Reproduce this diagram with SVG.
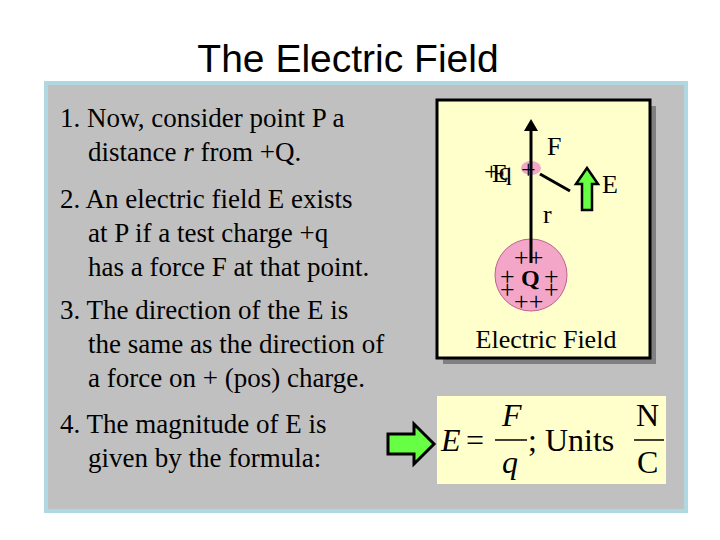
<svg xmlns="http://www.w3.org/2000/svg" width="720" height="540" viewBox="0 0 720 540">
<rect width="720" height="540" fill="#fff"/>
<text x="348" y="72" text-anchor="middle" font-family="Liberation Sans,sans-serif" font-size="39">The Electric Field</text>
<rect x="46" y="83" width="640" height="428" fill="#c0c0c0" stroke="#b0d8e0" stroke-width="4"/>
<g id="text" font-family="Liberation Serif,serif" font-size="27">
<text x="60" y="127">1. Now, consider point P a</text>
<text x="88" y="161">distance <tspan font-style="italic">r</tspan> from +Q.</text>
<text x="60" y="208">2. An electric field E exists</text>
<text x="88" y="242">at P if a test charge +q</text>
<text x="88" y="276">has a force F at that point.</text>
<text x="60" y="319">3. The direction of the E is</text>
<text x="88" y="353">the same as the direction of</text>
<text x="88" y="387">a force on + (pos) charge.</text>
<text x="60" y="433">4. The magnitude of E is</text>
<text x="88" y="467">given by the formula:</text>
</g>
<g id="panel" font-family="Liberation Serif,serif" font-size="26">
<rect x="443" y="106" width="213" height="258" fill="#808080"/>
<rect x="437" y="100" width="213" height="258" fill="#ffffcc" stroke="#000" stroke-width="3"/>
<circle cx="531" cy="275" r="36" fill="#f4a6c8" stroke="#c06090" stroke-width="1"/>
<ellipse cx="531" cy="168" rx="10" ry="7" fill="#f4a6c8"/>
<line x1="531" y1="263" x2="531" y2="130" stroke="#000" stroke-width="3"/>
<polygon points="531,119 524,131 538,131" fill="#000"/>
<line x1="540" y1="174" x2="570" y2="191" stroke="#000" stroke-width="3"/>
<polygon points="582,210 592,210 592,184 598,184 587,168 576,184 582,184" fill="#66ff44" stroke="#000" stroke-width="2.5"/>
<text x="547" y="155">F</text>
<text x="602" y="193">E</text>
<text x="543" y="223">r</text>
<text x="484" y="180">+q</text>
<text x="492" y="182">E</text>
<text x="521" y="178">+</text>
<text x="514" y="266">++</text>
<text x="500" y="285">+</text>
<text x="544" y="285">+</text>
<text x="500" y="298">+</text>
<text x="544" y="298">+</text>
<text x="514" y="310">++</text>
<text x="521" y="286" font-weight="bold" font-size="24">Q</text>
<text x="546" y="348" text-anchor="middle">Electric Field</text>
</g>
<g id="arrow">
<polygon points="388,434 414,434 414,424 434,444 414,464 414,454 388,454" fill="#66ff44" stroke="#000" stroke-width="3"/>
</g>
<g id="formula" font-family="Liberation Serif,serif" font-size="32">
<rect x="437" y="396" width="229" height="88" fill="#ffffcc"/>
<text x="441" y="451" font-style="italic">E</text>
<text x="466" y="451">=</text>
<text x="502" y="426" font-style="italic">F</text>
<line x1="495" y1="440" x2="527" y2="440" stroke="#000" stroke-width="1.5"/>
<text x="502" y="473" font-style="italic">q</text>
<text x="528" y="451">; Units</text>
<text x="636" y="426">N</text>
<line x1="634" y1="440" x2="664" y2="440" stroke="#000" stroke-width="1.5"/>
<text x="637" y="473">C</text>
</g>
</svg>
